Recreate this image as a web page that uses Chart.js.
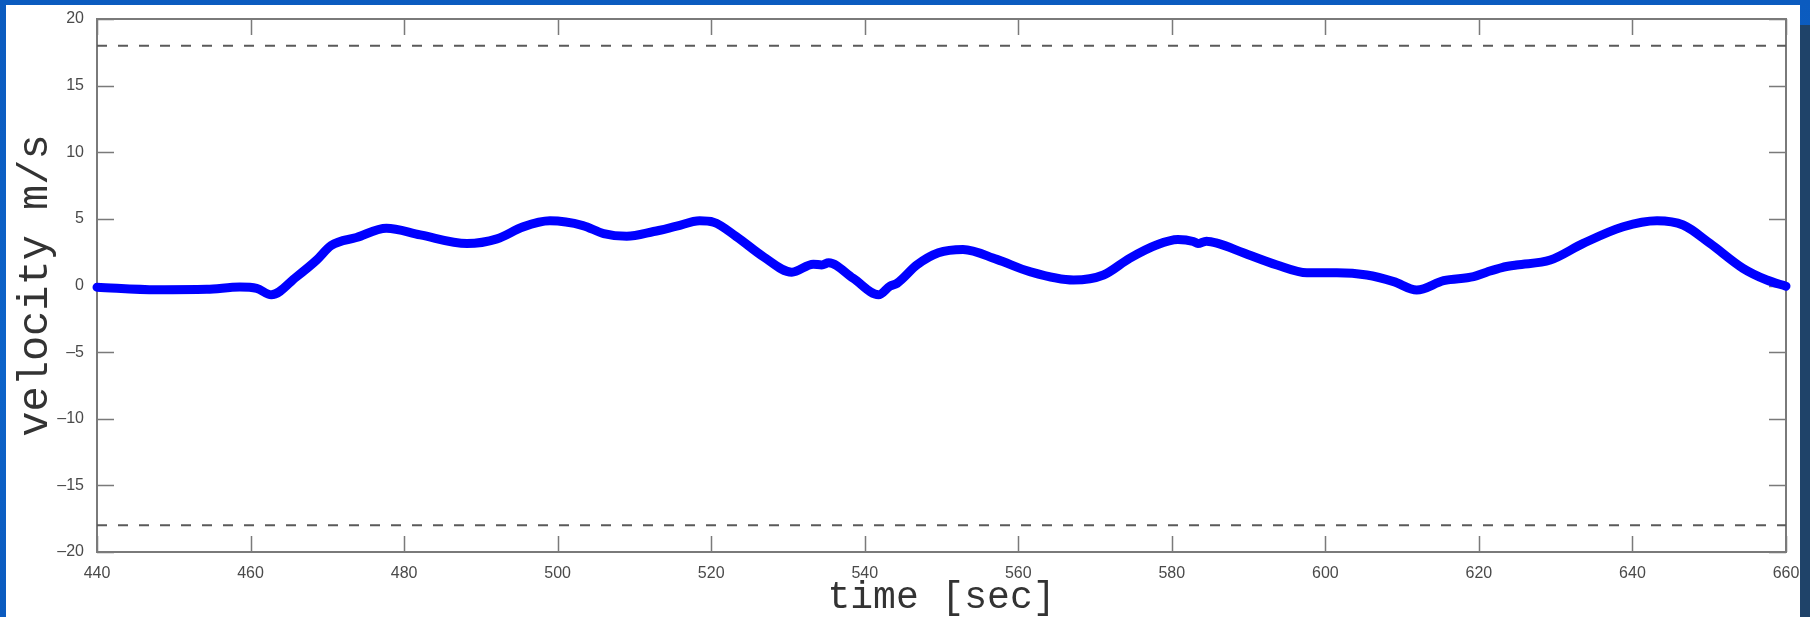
<!DOCTYPE html>
<html>
<head>
<meta charset="utf-8">
<style>
    html, body { margin: 0; padding: 0; }
    body { width: 1810px; height: 617px; position: relative; overflow: hidden;
           background: linear-gradient(180deg, #0b5bbf 0%, #0d63c9 60%, #0b5bbf 100%); }
    #sheet { position: absolute; left: 6px; top: 5px; width: 1794px; height: 612px; background: #fff; }
    #navy { position: absolute; left: 1800px; top: 25px; width: 10px; height: 592px; background: #1f4369; z-index: 5; }
    #wrap { position: absolute; left: 0; top: 0; width: 1810px; height: 617px; }
</style>
</head>
<body>
<div id="sheet"></div>
<div id="wrap"><canvas id="velChart" width="1810" height="617"></canvas></div>
<div id="navy"></div>
<script src="https://cdn.jsdelivr.net/npm/chart.js"></script>
<script>
    // time in seconds and velocity in m/s
    const times = [440, 447.8, 454.3, 458.6, 460.8, 462.7, 466, 468.6, 470.5, 473.8,
        477.7, 482.1, 488.2, 492.1, 495.5, 499, 503.3, 506, 509, 512.5,
        515.5, 518.5, 520.3, 523.3, 526.8, 530.5, 533.3, 534.4, 535.3, 538.5,
        541.8, 543.3, 544.2, 546.8, 549.6, 552.8, 557.2, 561.5, 567.2, 571.1,
        574.5, 578, 580.8, 582.8, 583.4, 584.5, 586, 589.3, 593.7, 597.6,
        601.5, 605.4, 608.9, 611.9, 615.4, 619.3, 621, 623, 624.9, 629.3,
        633.6, 638.8, 643.2, 646.6, 650.1, 654.4, 657.5, 660];
    const velocity = [-0.13, -0.32, -0.29, -0.12, -0.22, -0.7, 0.66, 1.9, 3.0, 3.6,
        4.3, 3.8, 3.15, 3.5, 4.4, 4.85, 4.5, 3.9, 3.7, 4.05,
        4.45, 4.85, 4.75, 3.66, 2.16, 1.0, 1.6, 1.54, 1.7, 0.54,
        -0.7, -0.04, 0.16, 1.54, 2.45, 2.7, 1.96, 1.04, 0.41, 0.79,
        2.04, 3.04, 3.45, 3.3, 3.15, 3.33, 3.16, 2.46, 1.54, 0.96,
        0.96, 0.79, 0.29, -0.34, 0.36, 0.66, 1.0, 1.35, 1.54, 1.91,
        3.16, 4.41, 4.86, 4.54, 3.16, 1.29, 0.41, -0.05];
    const limitLevels = [18, -18];
    const xTicks = [440, 460, 480, 500, 520, 540, 560, 580, 600, 620, 640, 660];
    const yTicks = [-20, -15, -10, -5, 0, 5, 10, 15, 20];

    const axisGrey = '#7a7a7a';
    const tickFont = { family: 'Liberation Sans, Arial, sans-serif', size: 16 };

    // matlab style box with inward ticks on all four sides
    const boxPlugin = {
        id: 'boxTicks',
        beforeDatasetsDraw(chart) {
            const { ctx, chartArea: a, scales } = chart;
            ctx.save();
            ctx.strokeStyle = axisGrey;
            ctx.lineWidth = 1.5;
            ctx.beginPath();
            xTicks.forEach(function(t) {
                const px = Math.round(scales.x.getPixelForValue(t)) + 0.5;
                ctx.moveTo(px, a.bottom); ctx.lineTo(px, a.bottom - 16);
                ctx.moveTo(px, a.top); ctx.lineTo(px, a.top + 16);
            });
            yTicks.forEach(function(v) {
                const py = Math.round(scales.y.getPixelForValue(v)) + 0.5;
                ctx.moveTo(a.left, py); ctx.lineTo(a.left + 17, py);
                ctx.moveTo(a.right, py); ctx.lineTo(a.right - 17, py);
            });
            ctx.stroke();
            ctx.lineWidth = 2;
            ctx.strokeRect(a.left, a.top, a.right - a.left, a.bottom - a.top);
            ctx.restore();
        }
    };

    const limitSets = limitLevels.map(function(lv) {
        return {
            data: [{ x: times[0], y: lv }, { x: times[times.length - 1], y: lv }],
            borderColor: '#5a5a5a',
            borderWidth: 2,
            borderDash: [10, 11],
            pointRadius: 0,
            fill: false
        };
    });

    new Chart(document.getElementById('velChart'), {
        type: 'line',
        data: {
            datasets: [{
                data: times.map(function(t, i) { return { x: t, y: velocity[i] }; }),
                borderColor: '#0000ff',
                borderWidth: 9,
                borderCapStyle: 'round',
                borderJoinStyle: 'round',
                cubicInterpolationMode: 'monotone',
                pointRadius: 0,
                fill: false,
                clip: false
            }].concat(limitSets)
        },
        options: {
            responsive: false,
            animation: false,
            layout: { padding: { top: 19, right: 24, left: 0, bottom: 0 } },
            plugins: { legend: { display: false }, tooltip: { enabled: false } },
            scales: {
                x: {
                    type: 'linear',
                    min: 440, max: 660,
                    afterFit: function(s) { s.height = 65; },
                    afterBuildTicks: function(s) { s.ticks = xTicks.map(function(v) { return { value: v }; }); },
                    grid: { display: false },
                    border: { display: false },
                    ticks: { color: '#4a4a4a', font: tickFont, padding: 4, maxRotation: 0, autoSkip: false },
                    title: {
                        display: true, text: 'time [sec]', color: '#333',
                        font: { family: 'Liberation Mono, Courier New, monospace', size: 38, lineHeight: 1 },
                        padding: { top: 0, bottom: 0 }
                    }
                },
                y: {
                    min: -20, max: 20,
                    afterFit: function(s) { s.width = 97; },
                    afterBuildTicks: function(s) { s.ticks = yTicks.map(function(v) { return { value: v }; }); },
                    grid: { display: false },
                    border: { display: false },
                    ticks: {
                        color: '#4a4a4a', font: tickFont, padding: 5,
                        callback: function(v) { return v < 0 ? '\u2013' + Math.abs(v) : String(v); }
                    },
                    title: {
                        display: true, text: 'velocity m/s', color: '#333',
                        font: { family: 'Liberation Mono, Courier New, monospace', size: 42, lineHeight: 1 },
                        padding: { top: 15, bottom: 0 }
                    }
                }
            }
        },
        plugins: [boxPlugin]
    });
</script>
</body>
</html>
